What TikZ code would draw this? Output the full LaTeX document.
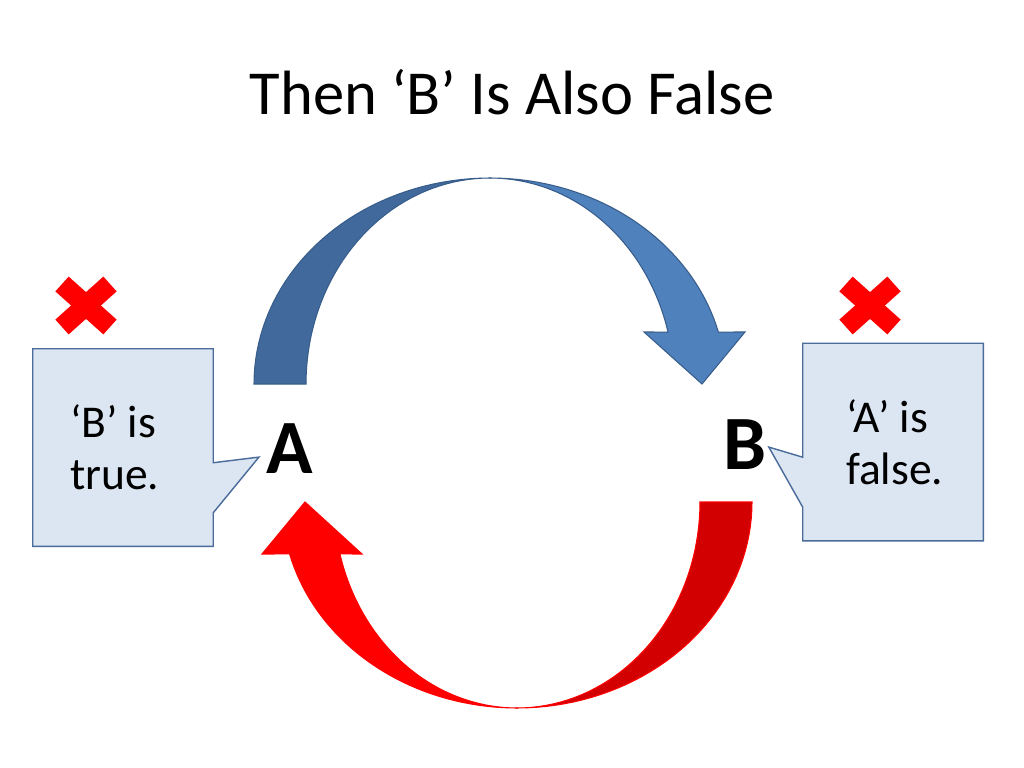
\documentclass[tikz,border=0pt]{standalone}
\usepackage{fontspec}
\setmainfont{Carlito}
\usetikzlibrary{calc, backgrounds}

\definecolor{arrowblue}{HTML}{4F81BD}
\definecolor{arrowbluedark}{HTML}{41699B}
\definecolor{bluerim}{HTML}{385D8A}
\definecolor{arrowreddark}{HTML}{D20000}
\definecolor{calloutfill}{HTML}{DCE6F2}
\definecolor{calloutrim}{HTML}{4A6C9B}

\begin{document}
\begin{tikzpicture}[x=0.703125pt, y=-0.703125pt,
    headline/.style={font=\fontsize{44}{53}\selectfont, anchor=base},
    letter/.style={font=\fontsize{54}{64}\selectfont\bfseries, inner sep=0pt, anchor=base},
    callbox/.style={minimum width=126.56pt, minimum height=138.52pt, align=flush left,
        inner ysep=0pt, font=\fontsize{32}{36.6}\selectfont},
    callrim/.style={fill=calloutfill, draw=calloutrim, line width=1pt},
    crossmark/.style={red, line width=14pt},
    bluebody/.style={draw=bluerim, line width=0.75pt},
    redbody/.style={draw=red, line width=0.75pt}]

    \begin{pgfonlayer}{background}
        \fill[white] (0,0) rectangle (1024,768);
    \end{pgfonlayer}
    \useasboundingbox (0,0) rectangle (1024,768);

    \node[headline] (head) at (512,115) {Then ‘B’ Is Also False};

    \node[letter] (A) at (289.5,473) {A};
    \node[letter] (B) at (745,469) {B};

    \node[callbox, inner xsep=26pt, text width=74.5pt] (lbox) at (123,447.5) {‘B’ is\\true.};
    \node[callbox, inner xsep=30.2pt, text width=66pt] (rbox) at (893,442) {‘A’ is\\false.};

    \coordinate (ltip) at ($(A.west)+(-7,9)$);
    \coordinate (rtip) at ($(B.east)+(2,3)$);

    % callout outlines under the text
    \begin{pgfonlayer}{background}
        \draw[callrim] (lbox.north west) -- (lbox.north east) -- ($(lbox.north east)+(0,114)$)
            -- (ltip) -- ($(lbox.north east)+(0,164)$) -- (lbox.south east)
            -- (lbox.south west) -- cycle;
        \draw[callrim] (rbox.north west) -- (rbox.north east) -- (rbox.south east)
            -- (rbox.south west) -- ($(rbox.north west)+(0,164)$) -- (rtip)
            -- ($(rbox.north west)+(0,114)$) -- cycle;
    \end{pgfonlayer}

    \coordinate (lmark) at (86,305.5);
    \coordinate (rmark) at (870,305.5);
    \foreach \m in {lmark, rmark} {
        \draw[crossmark] ($(\m)+(-24,-21.5)$) -- ($(\m)+(24,21.5)$);
        \draw[crossmark] ($(\m)+(-24,21.5)$) -- ($(\m)+(24,-21.5)$);
    }

    % upper arrow, A to B
    \filldraw[bluebody, fill=arrowbluedark]
        plot[domain=180:270, samples=40] ({490+236*cos(\x)}, {384+206*sin(\x)})
        -- plot[domain=270:180, samples=40] ({490+184*cos(\x)}, {384+206*sin(\x)}) -- cycle;
    \filldraw[bluebody, fill=arrowblue]
        plot[domain=270:345.4, samples=40] ({490+236*cos(\x)}, {384+206*sin(\x)})
        -- (745,332) -- (702,384) -- (644,332)
        -- plot[domain=345.4:270, samples=40] ({490+184*cos(\x)}, {384+206*sin(\x)}) -- cycle;

    % lower arrow, B to A
    \filldraw[redbody, fill=arrowreddark]
        plot[domain=0:90, samples=40] ({517+235*cos(\x)}, {502+206*sin(\x)})
        -- plot[domain=90:0, samples=40] ({517+183*cos(\x)}, {502+206*sin(\x)}) -- cycle;
    \filldraw[redbody, fill=red]
        plot[domain=90:165.4, samples=40] ({517+235*cos(\x)}, {502+206*sin(\x)})
        -- (262,554) -- (305,502) -- (362,554)
        -- plot[domain=165.4:90, samples=40] ({517+183*cos(\x)}, {502+206*sin(\x)}) -- cycle;
\end{tikzpicture}
\end{document}
